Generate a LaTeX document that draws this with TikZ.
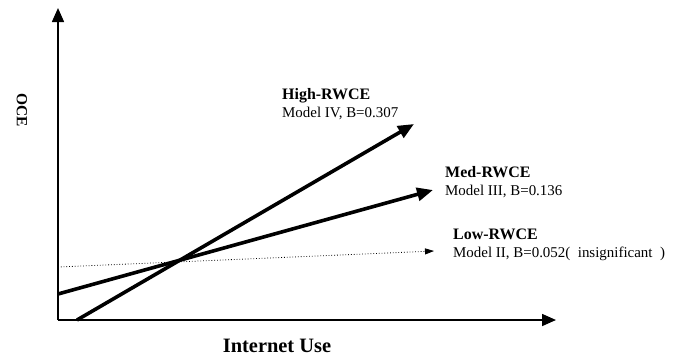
\documentclass[tikz,border=0pt]{standalone}
\usepackage{fontspec}
\setmainfont{Liberation Serif}
\usetikzlibrary{arrows.meta}
\begin{document}
\begin{tikzpicture}[line join=round, x=1bp, y=-1bp,
    axis/.style={line width=1.6bp, -{Triangle[length=14bp, width=12bp]}},
    effect/.style={line width=3.6bp, -{Triangle[length=16bp, width=13bp]}},
    weak/.style={line width=0.8bp, dotted, -{Triangle[length=9bp, width=6bp]}},
    lbl/.style={anchor=west, inner sep=0pt, align=left, font=\fontsize{15}{17.5}\selectfont}]
    \useasboundingbox (0,0) rectangle (676,356);
    % axes
    \coordinate (origin) at (58,320);
    \coordinate (ytop) at (58,8);
    \coordinate (xend) at (556,320);
    \draw[axis] (origin) -- (ytop);
    \draw[axis] (origin) -- (xend);
    \node[rotate=-90, font=\bfseries\fontsize{15.5}{18}\selectfont] (ocelabel) at (22,110) {OCE};
    \node[font=\bfseries\fontsize{20.5}{22}\selectfont] (xlabel) at (277,346) {Internet Use};
    % slopes
    \coordinate (highstart) at (77,320);
    \coordinate (highend) at (414,124);
    \coordinate (medstart) at (58,294);
    \coordinate (medend) at (433,190);
    \coordinate (lowstart) at (58,267);
    \coordinate (lowend) at (434,251);
    \draw[effect] (highstart) -- (highend);
    \draw[effect] (medstart) -- (medend);
    \draw[weak] (lowstart) -- (lowend);
    % labels
    \node[lbl] (high) at (282,104) {{\bfseries\fontsize{16}{17.5}\selectfont High-RWCE}\\Model IV, B=0.307};
    \node[lbl] (med) at (445,182) {{\bfseries\fontsize{16}{17.5}\selectfont Med-RWCE}\\Model III, B=0.136};
    \node[lbl] (low) at (453,245) {{\bfseries\fontsize{16}{17.5}\selectfont Low-RWCE}\\Model II, B=0.052(\enspace insignificant\enspace)};
\end{tikzpicture}
\end{document}
